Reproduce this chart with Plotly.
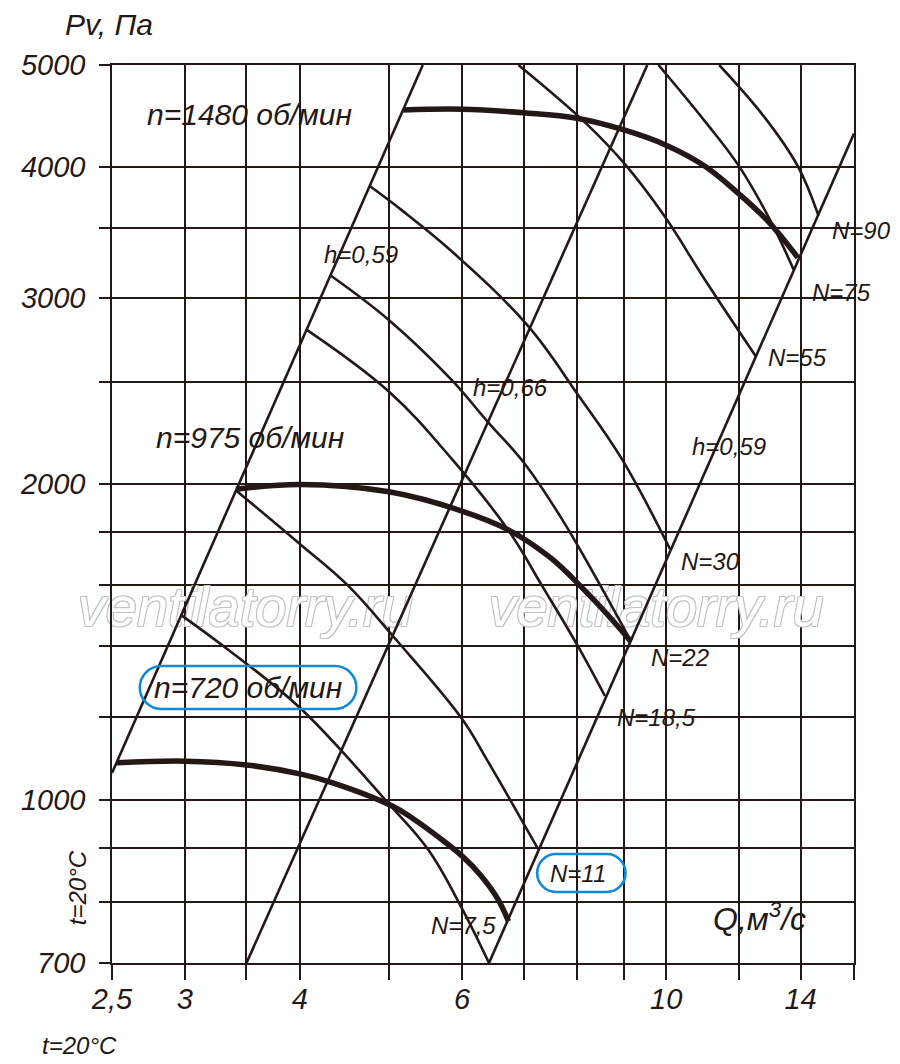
import math
import plotly.graph_objects as go

INK = "#231815"
BLUE = "#1089d6"
FONT = "Liberation Sans, Arial, sans-serif"

# the page body keeps an 8 px margin, so the figure is drawn that much smaller
PAGE_OFF = 8
# plot box on the page in pixels, used for the paper placed items
LEFT, RIGHT, TOP, BOTTOM = 107, 854, 65, 963

# axes: grid values and the labels shown
q_grid = [2.5, 3, 3.5, 4, 5, 6, 7, 8, 9, 10, 12, 14, 16]
q_text = ["2,5", "3", "", "4", "", "6", "", "", "", "10", "", "14", ""]
p_grid = [700, 800, 900, 1000, 1200, 1400, 1600, 1800, 2000, 2500, 3000, 3500, 4000, 5000]
p_text = ["700", "", "", "1000", "", "", "", "", "2000", "", "3000", "", "4000", "5000"]

# efficiency lines (straight in log-log)
q_h059a = [2.5, 5.44]
p_h059a = [1061, 5000]
q_h066 = [3.5, 9.54]
p_h066 = [700, 5000]
q_h059b = [6.42, 16]
p_h059b = [700, 4303]

# fan curves
q_n1480 = [5.18, 6.0, 7.0, 8.0, 9.0, 10.0, 11.0, 12.0, 12.9, 13.9]
p_n1480 = [4530, 4539, 4503, 4450, 4337, 4195, 4010, 3770, 3552, 3280]
q_n975 = [3.41, 4.0, 5.0, 6.0, 6.73, 7.48, 8.12, 8.6, 9.15]
p_n975 = [1975, 1996, 1964, 1883, 1808, 1701, 1589, 1507, 1416]
q_n720 = [2.53, 3.0, 3.5, 4.0, 4.35, 5.04, 5.33, 5.66, 6.0, 6.29, 6.56, 6.74]
p_n720 = [1085, 1089, 1080, 1059, 1038, 987, 958, 922, 885, 848, 806, 767]

# power lines
q_N7 = [2.97, 3.36, 4.0, 5.0, 5.52, 6.0, 6.42]
p_N7 = [1500, 1385, 1224, 991, 896, 789, 700]
q_N11 = [3.41, 4.0, 4.51, 5.07, 6.0, 6.40, 6.83, 7.26]
p_N11 = [1970, 1752, 1600, 1426, 1195, 1089, 987, 898]
q_N18 = [4.07, 5.0, 5.84, 6.73, 7.34, 8.0, 8.58]
p_N18 = [2800, 2445, 2114, 1808, 1596, 1406, 1256]
q_N22 = [4.32, 5.0, 5.84, 6.40, 7.0, 7.67, 8.31, 9.15]
p_N22 = [3154, 2860, 2512, 2289, 2095, 1862, 1652, 1418]
q_N30 = [4.76, 5.16, 5.84, 7.07, 8.02, 8.94, 10.1]
p_N30 = [3838, 3639, 3329, 2827, 2429, 2114, 1732]
q_N55 = [6.91, 8.19, 9.02, 9.97, 11.01, 12.52]
p_N55 = [5000, 4398, 4024, 3586, 3128, 2641]
q_N75 = [9.81, 11.01, 12.0, 12.99, 13.76]
p_N75 = [5000, 4424, 4007, 3552, 3193]
q_N90 = [11.42, 12.77, 13.9, 14.64]
p_N90 = [5000, 4468, 4007, 3595]


def paper(px, py):
    return (px - LEFT) / (RIGHT - LEFT), (BOTTOM - py) / (BOTTOM - TOP)


def pill_path(x0, y0, x1, y1):
    r = (y1 - y0) / 2
    k = 0.5523 * r
    parts = [("M", [(x0 + r, y0)]),
             ("L", [(x1 - r, y0)]),
             ("C", [(x1 - r + k, y0), (x1, y0 + r - k), (x1, y0 + r)]),
             ("C", [(x1, y0 + r + k), (x1 - r + k, y1), (x1 - r, y1)]),
             ("L", [(x0 + r, y1)]),
             ("C", [(x0 + r - k, y1), (x0, y1 - r + k), (x0, y1 - r)]),
             ("C", [(x0, y1 - r - k), (x0 + r - k, y0), (x0 + r, y0)])]
    out = ""
    for cmd, pts in parts:
        out += cmd + " ".join("%.5f,%.5f" % paper(*p) for p in pts) + " "
    return out + "Z"


def ifont(size, color=INK):
    return dict(family=FONT, size=size, color=color, style="italic")


def label(text, q, p, size=24, anchor="left"):
    return dict(text=text, x=math.log10(q), y=math.log10(p), xref="x", yref="y",
                showarrow=False, xanchor=anchor, yanchor="middle", font=ifont(size))


def plabel(text, px, py, size=24, anchor="left", angle=0):
    x, y = paper(px, py)
    return dict(text=text, x=x, y=y, xref="paper", yref="paper", showarrow=False,
                xanchor=anchor, yanchor="middle", textangle=angle, font=ifont(size))


fig = go.Figure()

# watermark first so the curves sit on top of it
outline = ", ".join("%dpx %dpx 0 #c2c2c2" % (a, b) for a in (-1, 1) for b in (-1, 1))
fig.add_trace(go.Scatter(x=[3.49, 9.75], y=[1510, 1510], mode="text",
                         text=["ventilatorry.ru", "ventilatorry.ru"],
                         textfont=dict(family=FONT, size=56, color="white", style="italic", shadow=outline),
                         cliponaxis=False, showlegend=False, hoverinfo="skip"))

thin = [(q_h059a, p_h059a), (q_h066, p_h066), (q_h059b, p_h059b),
        (q_N7, p_N7), (q_N11, p_N11), (q_N18, p_N18), (q_N22, p_N22),
        (q_N30, p_N30), (q_N55, p_N55), (q_N75, p_N75), (q_N90, p_N90)]
for q, p in thin:
    fig.add_trace(go.Scatter(x=q, y=p, mode="lines",
                             line=dict(color=INK, width=2.6, shape="spline", smoothing=1.1),
                             showlegend=False, hoverinfo="skip"))

for q, p in [(q_n1480, p_n1480), (q_n975, p_n975), (q_n720, p_n720)]:
    fig.add_trace(go.Scatter(x=q, y=p, mode="lines",
                             line=dict(color=INK, width=5.5, shape="spline", smoothing=1.1),
                             showlegend=False, hoverinfo="skip"))

annotations = [
    label("n=1480 об/мин", 2.716, 4484, 30),
    label("n=975 об/мин", 2.775, 2214, 30),
    plabel("n=720 об/мин", 147, 687, 30),
    label("h=0,59", 4.23, 3302),
    label("h=0,66", 6.14, 2467),
    label("h=0,59", 10.61, 2170),
    label("N=90", 15.08, 3478),
    label("N=75", 14.35, 3038),
    label("N=55", 12.83, 2635),
    label("N=30", 10.33, 1685),
    label("N=22", 9.57, 1367),
    label("N=18,5", 8.81, 1197),
    plabel("N=11", 576, 873, 24, "center"),
    label("N=7,5", 5.52, 760),
    label("Q,м<sup>3</sup>/с", 11.2, 775, 32),
    plabel("Pv, Па", 58, 25, 30),
    plabel("t=20°C", 72, 888, 24, "center", -90),
    plabel("t=20°C", 35, 1045, 24),
]

shapes = [
    dict(type="path", xref="paper", yref="paper", path=pill_path(135, 666, 353, 709),
         line=dict(color=BLUE, width=2.6)),
    dict(type="path", xref="paper", yref="paper", path=pill_path(535, 854, 624, 892),
         line=dict(color=BLUE, width=2.6)),
]

axis = dict(type="log", showgrid=True, gridcolor=INK, gridwidth=1.6, ticks="outside",
            tickcolor=INK, tickwidth=1.6, showline=True, linecolor=INK, linewidth=1.6,
            mirror=True, zeroline=False, tickfont=ifont(29))

fig.update_layout(
    width=900 - PAGE_OFF, height=1064 - PAGE_OFF,
    margin=dict(l=LEFT - PAGE_OFF, r=900 - RIGHT, t=TOP - PAGE_OFF, b=1064 - BOTTOM),
    paper_bgcolor="white", plot_bgcolor="white",
    showlegend=False,
    font=dict(family=FONT, color=INK),
    xaxis=dict(axis, range=[math.log10(2.5), math.log10(16)], tickvals=q_grid, ticktext=q_text,
               ticklen=15, ticklabelstandoff=-6),
    yaxis=dict(axis, range=[math.log10(700), math.log10(5000)], tickvals=p_grid, ticktext=p_text,
               ticklen=11, ticklabelstandoff=8),
    annotations=annotations,
    shapes=shapes,
)

fig.write_html("out.html")
